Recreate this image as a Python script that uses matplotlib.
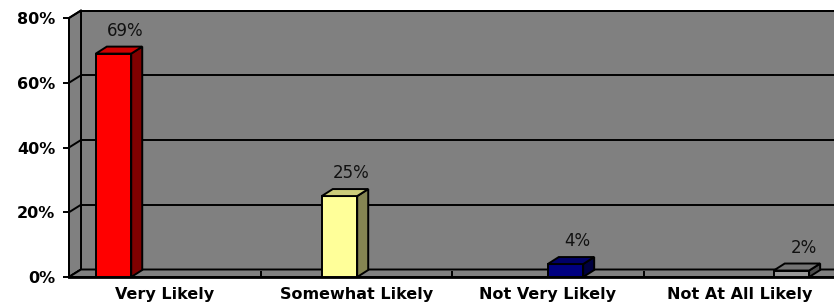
import matplotlib
matplotlib.use("Agg")
from matplotlib import pyplot as plt
from matplotlib.patches import Polygon
import numpy as np

# chart data
categories = ["Very Likely", "Somewhat Likely", "Not Very Likely", "Not At All Likely"]
values = [69, 25, 4, 2]
labels = ["69%", "25%", "4%", "2%"]
front_colors = ["#FF0000", "#FFFF99", "#000080", "#999999"]
top_colors = ["#D00000", "#CCCC7A", "#000066", "#747474"]
side_colors = ["#800000", "#858552", "#000040", "#4D4D4D"]
yticks = [0, 20, 40, 60, 80]

W, H = 834, 305
fig = plt.figure(figsize=(W / 100, H / 100), dpi=100)
fig.patch.set_facecolor("white")

# front plane of the plot (pixel layout)
left, bottom, width, height = 69, 28, 766, 259
ax = fig.add_axes([left / W, bottom / H, width / W, height / H])
ax.set_xlim(0, 4)
ax.set_ylim(0, 80)
ax.set_facecolor("none")

# depth of walls / bars in data units
px_x = width / 4.0
px_y = height / 80.0
dxw, dyw = 12 / px_x, 7.5 / px_y
dxb, dyb = 11 / px_x, 7 / px_y

lw = 1.4
wall = "#808080"

# back wall
ax.add_patch(Polygon([(dxw, dyw), (4 + dxw, dyw), (4 + dxw, 80 + dyw), (dxw, 80 + dyw)],
                     closed=True, fc=wall, ec="black", lw=lw, clip_on=False, zorder=0))
for t in yticks:
    ax.plot([dxw, 4 + dxw], [t + dyw, t + dyw], color="black", lw=lw, clip_on=False, zorder=1)
# left side wall
ax.add_patch(Polygon([(0, 0), (dxw, dyw), (dxw, 80 + dyw), (0, 80)],
                     closed=True, fc=wall, ec="black", lw=lw, clip_on=False, zorder=1))
for t in yticks:
    ax.plot([0, dxw], [t, t + dyw], color="black", lw=lw, clip_on=False, zorder=1)
# floor
ax.add_patch(Polygon([(0, 0), (4, 0), (4 + dxw, dyw), (dxw, dyw)],
                     closed=True, fc=wall, ec="black", lw=lw, clip_on=False, zorder=1))

# bars (one series slot per category, Excel clustered style)
gap, bw = 0.14, 0.185
for i, v in enumerate(values):
    x0 = i + gap + i * 0.18
    ax.bar(x0, v, bw, align="edge", color=front_colors[i], edgecolor="black",
           lw=lw, zorder=3, clip_on=False)
    ax.add_patch(Polygon([(x0 + bw, 0), (x0 + bw + dxb, dyb), (x0 + bw + dxb, v + dyb), (x0 + bw, v)],
                         closed=True, fc=side_colors[i], ec="black", lw=lw, zorder=3, clip_on=False))
    ax.add_patch(Polygon([(x0, v), (x0 + bw, v), (x0 + bw + dxb, v + dyb), (x0 + dxb, v + dyb)],
                         closed=True, fc=top_colors[i], ec="black", lw=lw, zorder=3, clip_on=False))
    ax.annotate(labels[i], xy=(x0 + bw / 2, v), xytext=(12, 14), textcoords="offset pixels",
                ha="center", va="bottom", fontsize=12, color="#111111", zorder=4)

# axes spines and ticks
for s in ["top", "right"]:
    ax.spines[s].set_visible(False)
ax.spines["left"].set_linewidth(lw)
ax.spines["bottom"].set_linewidth(2.0)
ax.spines["left"].set_zorder(2)
ax.spines["bottom"].set_zorder(2)

ax.set_yticks(yticks)
ax.set_yticklabels([f"{t}%" for t in yticks], fontsize=11.5, fontweight="bold")
ax.tick_params(axis="y", direction="out", length=4, width=lw, pad=6)

ax.set_xticks([1, 2, 3, 4])
ax.set_xticklabels([])
ax.tick_params(axis="x", which="major", direction="in", length=4, width=lw)
ax.set_xticks(np.arange(len(categories)) + 0.5, minor=True)
ax.set_xticklabels(categories, minor=True, fontsize=11.5, fontweight="bold")
ax.tick_params(axis="x", which="minor", length=0, pad=7)

fig.savefig("out.png", dpi=100)
